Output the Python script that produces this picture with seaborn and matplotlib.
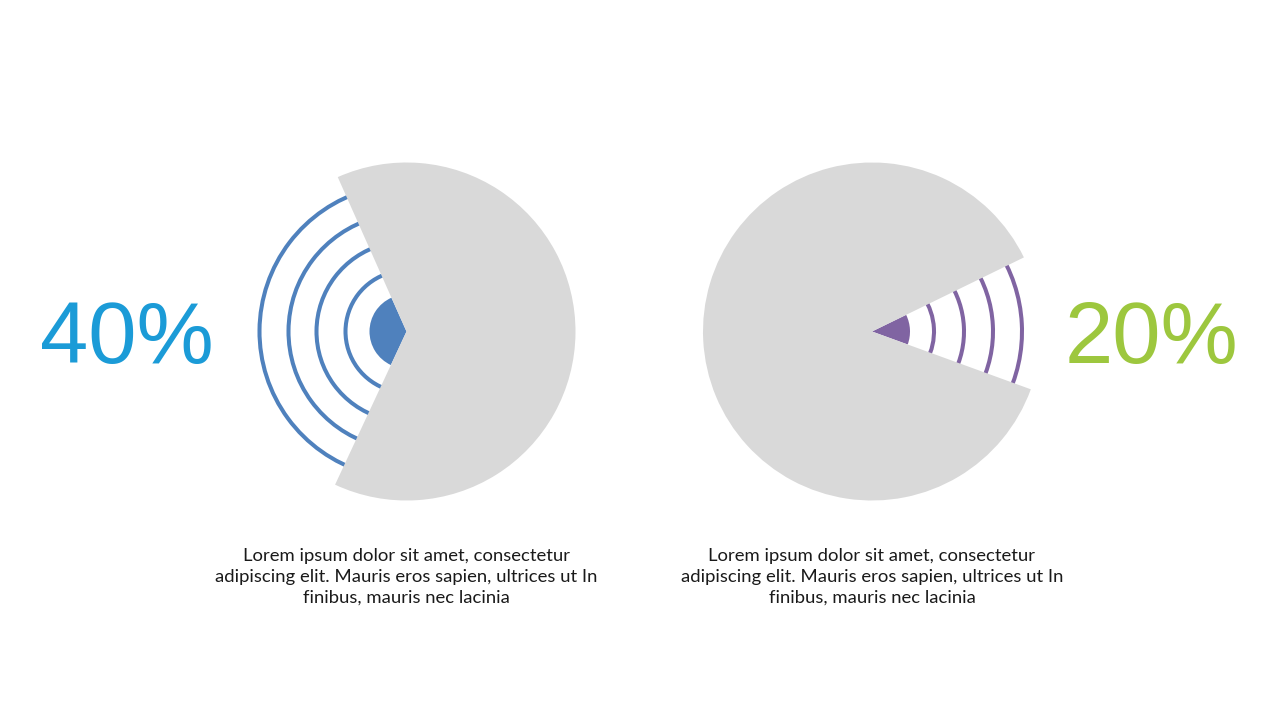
import numpy as np
import matplotlib
matplotlib.use("Agg")
import matplotlib.pyplot as plt
from matplotlib.patches import Wedge, Arc
import seaborn as sns

# values
labels = ["40%", "20%"]
gap_start = [114, -20]      # degrees where the grey pie opens
gap_end = [245, 26]         # degrees where the grey pie closes
ring_radii = [[61, 90, 118, 147], [62, 92, 121, 150]]
core_radius = [37, 38]
caption = "Lorem ipsum dolor sit amet, consectetur\nadipiscing elit. Mauris eros sapien, ultrices ut In\nfinibus, mauris nec lacinia"

ring_colors = ["#4F81BD", "#8064A2"]
label_colors = ["#1B9BD7", "#9DC73E"]
centers = [(406.5, 388.5), (872, 388.5)]
label_x = [126.7, 1151.5]
pie_radius = 169

sns.set_theme(style="white")
plt.rcParams['font.family'] = ['Liberation Sans', 'DejaVu Sans']

fig = plt.figure(figsize=(12.8, 7.2), dpi=100)
ax = fig.add_axes([0, 0, 1, 1])
ax.set_xlim(0, 1280)
ax.set_ylim(0, 720)
ax.axis("off")

for i in range(2):
    cx, cy = centers[i]
    a0, a1 = gap_start[i], gap_end[i]
    # rings in the open part, drawn under the grey pie
    for r in ring_radii[i]:
        ax.add_patch(Arc((cx, cy), 2 * r, 2 * r, theta1=a0 - 8, theta2=a1 + 8,
                         color=ring_colors[i], lw=2.9, zorder=1))
    ax.add_patch(Wedge((cx, cy), core_radius[i], a0, a1,
                       color=ring_colors[i], lw=0, zorder=2))
    # grey remainder
    ax.add_patch(Wedge((cx, cy), pie_radius, a1, a0 + 360,
                       color="#D9D9D9", lw=0, zorder=3))

    ax.text(label_x[i], 720 - 362.7, labels[i], ha="center", va="baseline",
            fontsize=62.5, color=label_colors[i])
    ax.text(cx, 720 - 548, caption, ha="center", va="top", fontsize=13.3,
            color="#1a1a1a", linespacing=1.38, family=['Lato', 'DejaVu Sans'])

fig.savefig("out.png", dpi=100)
